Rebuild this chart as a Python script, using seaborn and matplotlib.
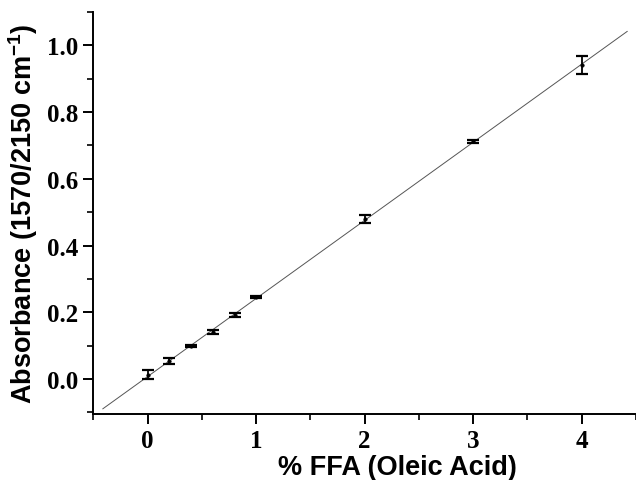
import numpy as np
import pandas as pd
import matplotlib
matplotlib.use("Agg")
import matplotlib.pyplot as plt
import seaborn as sns
from matplotlib.ticker import MultipleLocator, FormatStrFormatter

# FFA calibration data
ffa_pct = [0.0, 0.2, 0.4, 0.6, 0.8, 1.0, 2.0, 3.0, 4.0]
absorbance = [0.013, 0.054, 0.100, 0.140, 0.193, 0.245, 0.480, 0.712, 0.941]
abs_err = [0.013, 0.009, 0.003, 0.006, 0.006, 0.003, 0.011, 0.004, 0.026]

# extent of the drawn regression line
fit_x_range = [-0.415, 4.42]

df = pd.DataFrame({"ffa": ffa_pct, "abs": absorbance, "err": abs_err})

sns.set_style("ticks", {"axes.edgecolor": "black", "text.color": "black",
                        "axes.labelcolor": "black", "xtick.color": "black",
                        "ytick.color": "black"})
plt.rcParams["font.family"] = ["Liberation Sans", "DejaVu Sans"]
plt.rcParams["mathtext.default"] = "regular"

fig = plt.figure(figsize=(6.36, 4.81), dpi=100)
ax = fig.add_axes([0.147, 0.137, 0.853, 0.836])

# least squares fit line
slope, intercept = np.polyfit(df["ffa"], df["abs"], 1)
line_x = np.array(fit_x_range)
fit_df = pd.DataFrame({"x": line_x, "y": intercept + slope * line_x})
sns.lineplot(data=fit_df, x="x", y="y", ax=ax, color="#555555", lw=0.7)

ax.errorbar(df["ffa"], df["abs"], yerr=df["err"], fmt="none",
            ecolor="black", elinewidth=1.3, capsize=4.5, capthick=1.6)
sns.scatterplot(data=df, x="ffa", y="abs", ax=ax, color="black", s=6,
                edgecolor="black", linewidth=0.5, zorder=3)

ax.set_xlim(-0.5, 4.5)
ax.set_ylim(-0.105, 1.1)
ax.xaxis.set_major_locator(MultipleLocator(1))
ax.xaxis.set_minor_locator(MultipleLocator(0.5))
ax.yaxis.set_major_locator(MultipleLocator(0.2))
ax.yaxis.set_minor_locator(MultipleLocator(0.1))
ax.yaxis.set_major_formatter(FormatStrFormatter("%.1f"))

for side in ["top", "right"]:
    ax.spines[side].set_visible(False)
for side in ["left", "bottom"]:
    ax.spines[side].set_linewidth(1.4)

ax.tick_params(which="major", direction="out", length=7, width=1.4, pad=4)
ax.tick_params(which="minor", direction="out", length=4.5, width=1.2)
for lab in ax.get_xticklabels() + ax.get_yticklabels():
    lab.set_fontfamily("Liberation Serif")
    lab.set_fontweight("bold")
    lab.set_fontsize(18)

ax.set_xlabel("% FFA (Oleic Acid)", fontsize=19.5, fontweight="bold", labelpad=0)
ax.xaxis.set_label_coords(0.561, -0.1)
ax.set_ylabel("Absorbance (1570/2150 cm$^{\\mathregular{-1}}$)", fontsize=19.5,
              fontweight="bold", labelpad=5)

fig.savefig("out.png", dpi=100)
